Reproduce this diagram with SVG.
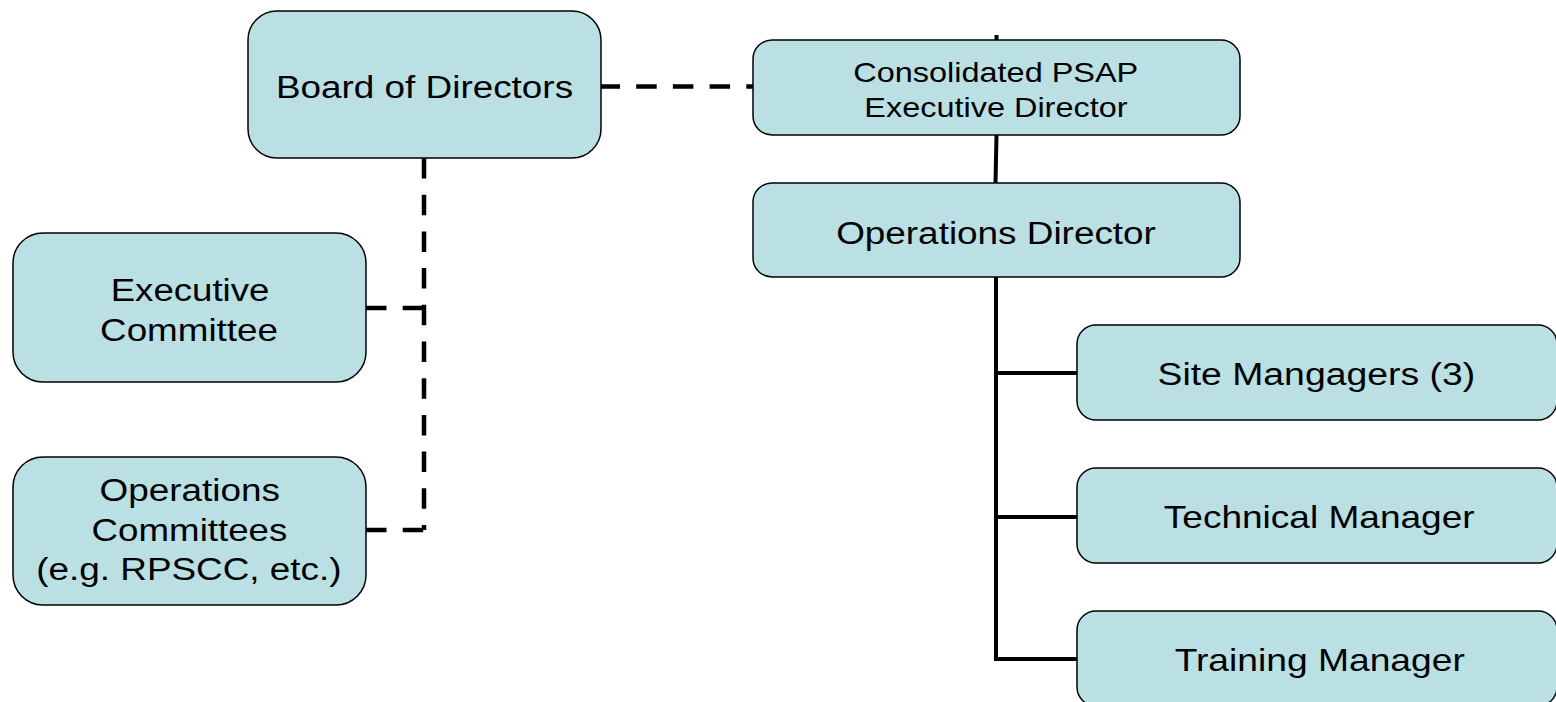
<svg xmlns="http://www.w3.org/2000/svg" width="1556" height="702" viewBox="0 0 1556 702">
<style>
.box{fill:#BBE0E3;stroke:#000;stroke-width:1.5}
.t{font-family:"Liberation Sans",Arial,sans-serif;font-size:31px;fill:#000;text-anchor:middle}
.ts{font-family:"Liberation Sans",Arial,sans-serif;font-size:27.5px;fill:#000;text-anchor:middle}
.dash{fill:none;stroke:#000;stroke-width:4.5;stroke-dasharray:20.5 16.2}
.solid{fill:none;stroke:#000;stroke-width:4}
</style>
<rect width="1556" height="702" fill="#fff"/>
<g id="connectors">
<path class="dash" d="M599.5 86.5 H753"/>
<path class="dash" d="M424 158 V530"/>
<path class="dash" d="M366 308 H424"/>
<path class="dash" d="M366 530 H424"/>
<path class="solid" d="M996.5 35 V40"/>
<path class="solid" d="M996.5 135 L995.5 183"/>
<path class="solid" d="M996 277 V659 H1077"/>
<path class="solid" d="M996 373 H1077"/>
<path class="solid" d="M996 517 H1077"/>
</g>
<g id="board">
<rect class="box" x="248" y="11" width="353" height="147" rx="29" ry="29"/>
<text class="t" transform="translate(424.5,0) scale(1.19,1)" x="0" y="98">Board of Directors</text>
</g>
<g id="psap">
<rect class="box" x="753" y="40" width="487" height="95" rx="19" ry="19"/>
<text class="ts" transform="translate(995.8,0) scale(1.18,1)" x="0" y="82">Consolidated PSAP</text>
<text class="ts" transform="translate(995.9,0) scale(1.18,1)" x="0" y="117">Executive Director</text>
</g>
<g id="opsdir">
<rect class="box" x="753" y="183" width="487" height="94" rx="19" ry="19"/>
<text class="t" transform="translate(996,0) scale(1.19,1)" x="0" y="244">Operations Director</text>
</g>
<g id="execcom">
<rect class="box" x="13" y="233" width="353" height="149" rx="30" ry="30"/>
<text class="t" transform="translate(190,0) scale(1.181,1)" x="0" y="301">Executive</text>
<text class="t" transform="translate(189,0) scale(1.187,1)" x="0" y="341">Committee</text>
</g>
<g id="opscom">
<rect class="box" x="13" y="457" width="353" height="148" rx="30" ry="30"/>
<text class="t" transform="translate(189.7,0) scale(1.19,1)" x="0" y="501">Operations</text>
<text class="t" transform="translate(189.5,0) scale(1.184,1)" x="0" y="541">Committees</text>
<text class="t" transform="translate(188.9,0) scale(1.19,1)" x="0" y="580">(e.g. RPSCC, etc.)</text>
</g>
<g id="site">
<rect class="box" x="1077" y="325" width="480" height="95" rx="19" ry="19"/>
<text class="t" transform="translate(1316.3,0) scale(1.205,1)" x="0" y="385">Site Mangagers (3)</text>
</g>
<g id="tech">
<rect class="box" x="1077" y="468" width="480" height="95" rx="19" ry="19"/>
<text class="t" transform="translate(1319.2,0) scale(1.195,1)" x="0" y="528">Technical Manager</text>
</g>
<g id="training">
<rect class="box" x="1077" y="611" width="480" height="95" rx="19" ry="19"/>
<text class="t" transform="translate(1319.7,0) scale(1.2,1)" x="0" y="671">Training Manager</text>
</g>
</svg>
